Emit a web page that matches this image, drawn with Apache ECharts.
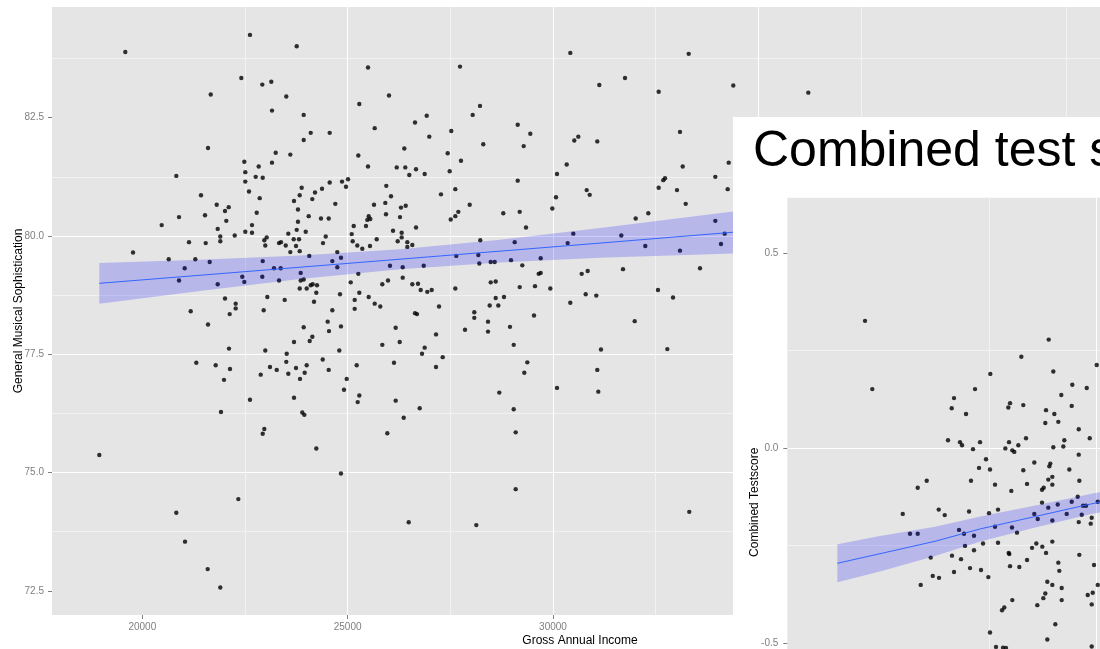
<!DOCTYPE html>
<html><head><meta charset="utf-8">
<script src="https://cdn.jsdelivr.net/npm/echarts@6/dist/echarts.min.js"></script>
<style>
html,body{margin:0;padding:0;overflow:hidden;background:#fff;width:1100px;height:649px;position:relative;}
#c1{position:absolute;left:0;top:0;width:1120px;height:649px;}
#c2{position:absolute;left:733px;top:117px;width:1200px;height:720px;background:#fff;}
</style></head><body>
<div id="c1"></div><div id="c2"></div>
<script>
// ---------- Chart A: General Musical Sophistication vs Gross Annual Income ----------
const incomeA = [
19586,19774,18953,22622,23760,22411,22922,23141,25496,27736,
21666,23506,23158,23930,24101,24563,23930,21600,23248,23604,
22484,23158,22834,22508,20828,22761,22932,22508,25009,24863,
24563,24960,23881,24376,24205,22598,21429,23833,22859,24140,
23694,24700,21812,22104,22014,23791,22786,20894,21527,24052,
24351,24539,22045,23791,20472,25148,22671,21836,23760,23979,
22508,22671,22250,21899,23555,24466,25099,23029,22971,23687,
23816,25123,21899,21137,21544,23329,23377,22995,23492,23743,
24400,25235,23604,23833,24748,20643,21291,21641,21032,20894,
22932,23207,23370,24066,24627,24838,24748,22435,22484,21836,
22922,23329,23857,23857,23930,23833,24003,24101,24149,24254,
24237,24181,24814,25075,25172,25172,24627,24514,24546,24838,
22014,22274,22274,22128,21179,21600,23044,22956,23467,23930,
24140,24076,23694,22111,22995,23516,23506,21315,21787,22135,
21989,23109,23273,22883,23555,23743,24003,23954,23840,24393,
24539,24797,24977,24911,25221,23694,22622,21916,23896,23945,
27646,26031,26341,26852,28206,28484,28581,28978,29701,29253,
25260,25983,25844,26341,26575,26713,26779,26940,27047,27622,
28484,28605,29652,29701,29190,29562,29935,25284,25513,25659,
25795,27225,28605,28807,28459,28669,28084,28084,26640,26689,
29538,28418,26170,27858,28418,28953,27152,25844,26268,29044,
26876,26811,27315,26129,27152,29375,29302,25284,25245,26170,
28693,26755,26365,29044,26007,25284,28223,28045,26925,26640,
29141,25659,27524,29448,26988,28303,29287,26380,27436,25260,
27760,25496,26195,26404,26665,27485,26501,26876,29141,25941,
27622,26056,27273,25642,25917,26414,26299,27972,29984,25934,
26275,27695,27622,27510,28790,29190,25513,25552,25479,25447,
26105,26316,26665,29343,26316,25708,26219,26453,26575,26453,
25357,25544,28230,29068,28182,25966,26487,28133,29092,29092,
22932,22971,24237,24838,22338,20828,21040,21592,21899,30422,
31128,31754,32574,33305,34391,33093,30519,30617,31079,30334,
30098,33159,34279,33953,32574,32686,32728,33020,33232,34254,
30074,30821,30894,32014,32321,33953,30495,30358,31664,32248,
33093,34181,34091,30699,30845,31705,33580,30797,31055,30422,
32557,32923,31990,31169,32784,31079,30098,31104,33319,36217
];
const musicA = [
83.89,79.65,75.37,84.25,84.01,83.34,83.20,83.26,83.56,83.58,
82.99,82.95,82.65,82.56,82.18,82.18,82.03,81.86,81.76,81.72,
81.57,81.55,81.47,81.35,81.27,81.25,81.23,81.15,81.20,81.15,
81.13,81.04,81.02,81.00,80.92,80.94,80.86,80.86,80.80,80.78,
80.74,80.68,80.66,80.61,80.53,80.56,80.49,80.40,80.44,80.42,
80.37,80.37,80.32,80.30,80.23,80.21,80.23,80.15,80.13,80.09,
80.09,80.07,80.01,79.99,80.05,79.99,80.04,79.97,79.91,79.93,
79.93,79.89,79.89,79.87,79.85,79.85,79.87,79.80,79.80,79.79,
79.85,79.80,79.66,79.68,79.66,79.51,79.51,79.45,79.32,79.06,
79.47,79.32,79.32,79.58,79.47,79.54,79.34,79.14,79.03,78.98,
79.14,79.06,79.22,79.06,79.08,78.89,78.89,78.96,78.98,78.96,
78.80,78.61,78.77,79.02,78.65,78.46,78.43,78.19,77.99,78.09,
78.68,78.57,78.47,78.35,78.41,78.13,78.71,78.43,78.65,78.07,
77.87,77.78,77.76,77.62,77.58,77.51,77.34,77.32,77.27,77.19,
76.96,77.23,77.17,77.07,77.09,77.21,77.27,77.11,76.98,77.39,
77.17,77.58,76.98,76.75,77.27,76.58,76.54,76.28,76.27,76.22,
79.58,79.37,79.34,79.37,79.42,79.45,79.45,79.49,79.53,79.38,
79.20,79.06,78.98,79.12,78.98,78.99,78.86,78.82,78.86,78.89,
79.02,79.04,79.20,79.22,78.92,78.94,78.89,78.80,78.71,78.57,
78.51,78.51,78.69,78.71,78.53,78.53,78.39,78.27,78.37,78.35,
78.32,78.19,78.06,78.02,77.98,78.08,77.92,77.70,77.76,77.70,
77.64,77.51,77.44,77.32,77.23,77.33,77.11,76.63,76.49,76.52,
76.69,76.36,76.16,76.34,82.97,82.79,82.75,82.56,82.54,82.40,
82.35,82.28,82.22,82.16,82.10,81.94,81.90,81.85,81.75,81.70,
81.59,81.47,81.45,81.45,81.41,81.37,81.29,81.31,81.17,81.06,
80.99,80.84,80.88,80.66,80.70,80.64,80.60,80.66,80.58,80.46,
80.40,80.51,80.42,80.35,80.48,80.51,80.42,80.36,80.34,80.21,
80.11,80.07,80.18,80.18,79.97,79.93,79.89,79.87,79.81,79.77,
79.73,79.79,79.91,79.87,79.60,75.83,73.95,73.89,75.85,74.65,
75.82,75.92,75.51,74.98,74.44,74.15,73.54,72.96,72.57,83.87,
83.19,83.34,83.05,83.85,83.18,82.20,82.02,82.10,82.00,81.51,
81.31,81.47,81.55,81.25,81.02,81.18,81.22,80.97,80.68,80.99,
80.82,80.97,80.87,80.37,80.48,80.32,80.05,79.85,80.01,79.79,
79.69,80.05,79.83,79.20,79.26,79.30,79.32,78.77,78.74,78.59,
78.86,78.70,78.20,77.60,77.61,77.17,76.79,76.71,74.17,83.03
];
// smoother (linear fit) and its confidence band, read at a few incomes
const fitIncomeA = [18953, 21405, 23840, 26275, 28710, 31145, 34384, 36014];
const fitMidA    = [79.00, 79.17, 79.34, 79.51, 79.68, 79.85, 80.08, 80.19];
const fitHighA   = [79.43, 79.50, 79.59, 79.72, 79.92, 80.17, 80.52, 80.71];
const fitLowA    = [78.57, 78.84, 79.09, 79.30, 79.44, 79.54, 79.63, 79.67];
const xTicksA = [20000, 25000, 30000, 35000, 40000];
const yTicksA = [72.5, 75, 77.5, 80, 82.5];

// ---------- Chart B: Combined Testscore vs Gross Annual Income ----------
const incomeB = [
19596,19766,23888,23248,22523,23995,25009,22166,21675,21621,
21956,22944,22984,23294,23825,23808,24019,24112,24182,24439,
24425,24776,24589,24846,21535,21815,21862,22283,22119,22960,
22874,23037,23084,23178,23357,23995,24252,24229,24589,22423,
22259,22516,23294,23551,23925,23902,23878,23972,23972,24369,
24603,23381,22633,22072,21037,20827,23014,23731,23771,23731,
24565,20477,21318,21458,22026,22493,22703,23551,23631,23878,
23972,24098,24308,24425,24589,24659,24689,24759,24892,24869,
25033,20647,20827,21792,21909,22142,22633,23030,23147,21932,
22353,22703,22142,21628,21131,21839,22953,22967,23381,23498,
23598,23738,23825,23972,24112,24603,24946,21675,22049,22306,
22984,23201,24135,21178,21325,20897,22477,23855,23972,24191,
25033,23808,23762,24916,24799,24892,24191,23037,23621,22850,
22797,24042,22516,23855,22656,22820,22890,24892
];
const testB = [
0.326,0.151,0.278,0.234,0.190,0.196,0.213,0.151,0.128,0.102,
0.087,0.104,0.115,0.110,0.097,0.064,0.087,0.067,0.136,0.162,
0.108,0.154,0.048,0.025,0.020,0.015,0.007,0.015,-0.003,0.015,
-0.001,-0.006,-0.010,0.007,0.025,0.002,0.020,0.004,-0.017,-0.029,
-0.051,-0.055,-0.057,-0.037,-0.040,-0.047,-0.081,-0.074,-0.094,-0.055,
-0.084,-0.092,-0.094,-0.084,-0.084,-0.102,-0.110,-0.107,-0.102,-0.140,
-0.125,-0.169,-0.158,-0.172,-0.163,-0.167,-0.158,-0.169,-0.182,-0.153,
-0.186,-0.145,-0.169,-0.138,-0.190,-0.171,-0.148,-0.148,-0.179,-0.194,
-0.138,-0.220,-0.220,-0.210,-0.220,-0.225,-0.202,-0.204,-0.217,-0.251,
-0.245,-0.243,-0.262,-0.276,-0.281,-0.285,-0.269,-0.272,-0.287,-0.256,
-0.245,-0.253,-0.269,-0.240,-0.294,-0.274,-0.300,-0.318,-0.308,-0.313,
-0.303,-0.305,-0.315,-0.328,-0.333,-0.351,-0.331,-0.343,-0.351,-0.359,
-0.351,-0.373,-0.385,-0.371,-0.377,-0.401,-0.390,-0.390,-0.403,-0.409,
-0.416,-0.452,-0.473,-0.491,-0.510,-0.512,-0.513,-0.509
];
const fitIncomeB = [18949, 19946, 21231, 22290, 23575, 24860, 26492];
const fitMidB    = [-0.2956, -0.2710, -0.2392, -0.2074, -0.1756, -0.1438, -0.1090];
const fitHighB   = [-0.2469, -0.2254, -0.2018, -0.1754, -0.1477, -0.1177, -0.0823];
const fitLowB    = [-0.3444, -0.3167, -0.2767, -0.2395, -0.2036, -0.1700, -0.1356];
const xTicksB = [20000, 25000, 30000, 35000, 40000];
const yTicksB = [-0.5, 0, 0.5];

const FONT = "'Liberation Sans', Arial, Helvetica, sans-serif";
const PANEL = '#E5E5E5', MAJOR = '#FFFFFF', MINOR = '#F2F2F2', TICK = '#7F7F7F';

function ribbon(xs, lo, hi) {
  return function (params, api) {
    const pts = [];
    for (let i = 0; i < xs.length; i++) pts.push(api.coord([xs[i], hi[i]]));
    for (let i = xs.length - 1; i >= 0; i--) pts.push(api.coord([xs[i], lo[i]]));
    return { type: 'polygon', shape: { points: pts }, style: { fill: 'rgba(0,0,255,0.2)' } };
  };
}

function axis(o) {
  return {
    type: 'value', min: o.min, max: o.max, minInterval: o.step, maxInterval: o.step,
    name: o.name, nameLocation: 'middle', nameGap: o.nameGap, nameMoveOverlap: false,
    nameTextStyle: { color: '#000', fontSize: 12, fontFamily: FONT },
    axisLine: { show: false, onZero: false },
    axisTick: { show: true, length: 4, lineStyle: { color: TICK, width: 1 }, customValues: o.ticks },
    axisLabel: { color: TICK, fontSize: 10, fontFamily: FONT, margin: o.margin, customValues: o.ticks,
                 hideOverlap: false, formatter: o.fmt },
    splitLine: { show: true, showMinLine: false, showMaxLine: false, lineStyle: { color: MAJOR, width: 1 } },
    minorTick: { show: false, splitNumber: 2 },
    minorSplitLine: { show: true, lineStyle: { color: MINOR, width: 1 } }
  };
}

function seriesFor(xs, ys, fx, fm, flo, fhi) {
  return [
    { type: 'scatter', data: xs.map((x, i) => [x, ys[i]]), symbolSize: 4.4,
      itemStyle: { color: '#000' }, z: 2, silent: true },
    { type: 'custom', renderItem: ribbon(fx, flo, fhi), data: [[fx[0], fm[0]]], z: 3, clip: true, silent: true },
    { type: 'line', data: fx.map((x, i) => [x, fm[i]]), symbol: 'none', showSymbol: false,
      lineStyle: { color: '#3366FF', width: 1 }, z: 4, silent: true, clip: true }
  ];
}

const c1 = echarts.init(document.getElementById('c1'), null, { renderer: 'canvas' });
c1.setOption({
  animation: false,
  textStyle: { fontFamily: FONT },
  grid: { left: 52, top: 7, width: 1056, height: 608, show: true, backgroundColor: PANEL, borderWidth: 0,
          containLabel: false, outerBoundsMode: 'none' },
  xAxis: axis({ min: 17801, max: 43515, step: 5000, name: 'Gross Annual Income', nameGap: 20,
                ticks: xTicksA, margin: 7, fmt: v => String(v) }),
  yAxis: axis({ min: 71.99, max: 84.84, step: 2.5, name: 'General Musical Sophistication', nameGap: 27,
                ticks: yTicksA, margin: 8, fmt: v => v.toFixed(1) }),
  series: seriesFor(incomeA, musicA, fitIncomeA, fitMidA, fitLowA, fitHighA)
});

const c2 = echarts.init(document.getElementById('c2'), null, { renderer: 'canvas' });
c2.setOption({
  animation: false,
  textStyle: { fontFamily: FONT },
  title: { text: 'Combined test score', left: 15, top: 5,
           textStyle: { fontSize: 50, fontWeight: 'normal', color: '#000', fontFamily: FONT } },
  grid: { left: 54.3, top: 80.7, width: 1100, height: 609.1, show: true, backgroundColor: PANEL, borderWidth: 0,
          containLabel: false, outerBoundsMode: 'none' },
  xAxis: axis({ min: 17780, max: 43480, step: 5000, name: 'Gross Annual Income', nameGap: 20,
                ticks: xTicksB, margin: 7, fmt: v => String(v) }),
  yAxis: axis({ min: -0.92, max: 0.6418, step: 0.5, name: 'Combined Testscore', nameGap: 27,
                ticks: yTicksB, margin: 9, fmt: v => v.toFixed(1) }),
  series: seriesFor(incomeB, testB, fitIncomeB, fitMidB, fitLowB, fitHighB)
});
</script>
</body></html>
